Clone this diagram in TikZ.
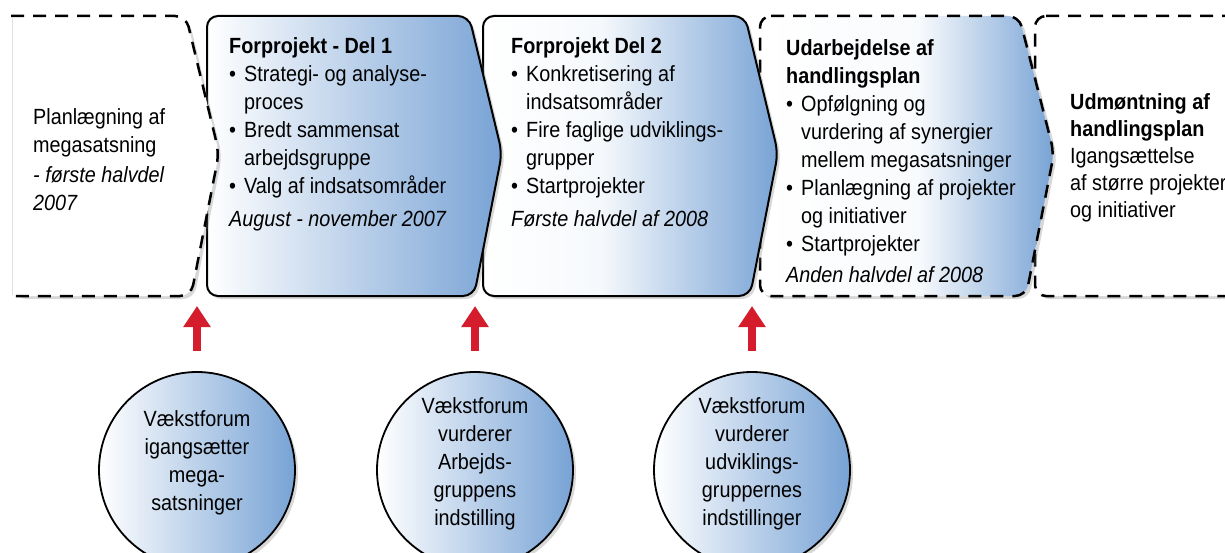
\documentclass[tikz,border=0pt]{standalone}
\usepackage{fontspec}
\setmainfont{Liberation Sans}[FakeStretch=0.9]
\usetikzlibrary{shadows,arrows.meta}
\definecolor{myblue}{RGB}{120,163,213}
\definecolor{arrred}{RGB}{212,28,44}
\pgfdeclarehorizontalshading{shadeA}{100bp}{color(0bp)=(white); color(25bp)=(white); color(75bp)=(myblue); color(100bp)=(myblue)}
\pgfdeclarehorizontalshading{shadeB}{100bp}{color(0bp)=(white); color(25bp)=(white); color(45bp)=(white!93!myblue); color(75bp)=(myblue); color(100bp)=(myblue)}
\pgfdeclarehorizontalshading{shadeC}{100bp}{color(0bp)=(white); color(25bp)=(white); color(52bp)=(white!95!myblue); color(75bp)=(myblue); color(100bp)=(myblue)}
\newcommand{\bulx}{\makebox[15pt][l]{\textbullet}}
\newcommand{\indx}{\hspace*{15pt}}
\tikzset{
  shp/.style={rounded corners=11pt, line width=2pt,
    drop shadow={shadow xshift=3pt, shadow yshift=-3pt, opacity=0.3}},
  dsh/.style={dash pattern=on 13pt off 9pt, line width=2.5pt},
  txt/.style={anchor=north west, inner sep=0pt, align=left, font=\fontsize{22}{28}\selectfont},
  ctxt/.style={anchor=north, inner sep=0pt, align=center, font=\fontsize{22}{28}\selectfont},
  circ/.style={circle, draw, line width=1.8pt, minimum size=196pt, inner sep=0pt, shading=shadeA,
    drop shadow={shadow xshift=3pt, shadow yshift=-3pt, opacity=0.3}},
  redarr/.style={draw=arrred, line width=8pt, -{Triangle[width=26pt,length=21pt]}}
}
\begin{document}
\begin{tikzpicture}[x=1pt,y=-1pt]
\useasboundingbox (0,0) rectangle (1225,553);
\clip (0,0) rectangle (1225,553);
\fill[white] (0,0) rectangle (1225,553);
% shape 5
\draw[shp, dsh, fill=white] (1035,16) -- (1300,16) -- (1300,296) -- (1035,296) -- cycle;
% shape 4
\draw[shp, dsh, shading=shadeC] (760,16) -- (1019,16) -- (1054,153) -- (1026,296) -- (760,296) -- cycle;
% shape 3
\draw[shp, shading=shadeB] (483,16) -- (745,16) -- (778,153) -- (750,296) -- (483,296) -- cycle;
% shape 2
\draw[shp, shading=shadeA] (207,16) -- (469,16) -- (502,153) -- (474,296) -- (207,296) -- cycle;
% shape 1
\path[shp, fill=white] (12,16) -- (186,16) -- (219,153) -- (191,296) -- (12,296) -- cycle;
\draw[rounded corners=11pt, dsh] (11,16) -- (186,16) -- (219,153) -- (191,296) -- (11,296);
\draw[black!12, line width=1pt] (12,17) -- (12,295);

% texts
\node[txt] (t1) at (33,104.4) {\strut Planlægning af\\megasatsning\\[2pt]\textit{- første halvdel}\\\textit{2007}};
\node[txt] (t2) at (229,33.4) {\strut\textbf{Forprojekt - Del 1}\\\bulx Strategi- og analyse-\\\indx proces\\\bulx Bredt sammensat\\\indx arbejdsgruppe\\\bulx Valg af indsatsområder\\[5pt]\textit{August - november 2007}};
\node[txt] (t3) at (511,33.4) {\strut\textbf{Forprojekt Del 2}\\\bulx Konkretisering af\\\indx indsatsområder\\\bulx Fire faglige udviklings-\\\indx grupper\\\bulx Startprojekter\\[5pt]\textit{Første halvdel af 2008}};
\node[txt] (t4) at (786,35.4) {\strut\textbf{Udarbejdelse af}\\\textbf{handlingsplan}\\\bulx Opfølgning og\\\indx vurdering af synergier\\\indx mellem megasatsninger\\\bulx Planlægning af projekter\\\indx og initiativer\\\bulx Startprojekter\\[3pt]\textit{Anden halvdel af 2008}};
\node[txt, font=\fontsize{22}{27}\selectfont] (t5) at (1070,90.4) {\strut\textbf{Udmøntning af}\\\textbf{handlingsplan}\\Igangsættelse\\af større projekter\\og initiativer};

% circles
\node[circ] (c1) at (197,470) {};
\node[circ] (c2) at (475,470) {};
\node[circ] (c3) at (752,470) {};
\node[ctxt] (c1t) at (197,406.4) {\strut Vækstforum\\igangsætter\\mega-\\satsninger};
\node[ctxt] (c2t) at (475,393.4) {\strut Vækstforum\\vurderer\\Arbejds-\\gruppens\\indstilling};
\node[ctxt] (c3t) at (752,393.4) {\strut Vækstforum\\vurderer\\udviklings-\\gruppernes\\indstillinger};

% arrows
\coordinate (a1) at (197,306);
\coordinate (a2) at (475,306);
\coordinate (a3) at (752,306);
\draw[redarr] ([yshift=20pt]c1.north) -- (a1);
\draw[redarr] ([yshift=20pt]c2.north) -- (a2);
\draw[redarr] ([yshift=20pt]c3.north) -- (a3);
\end{tikzpicture}
\end{document}
